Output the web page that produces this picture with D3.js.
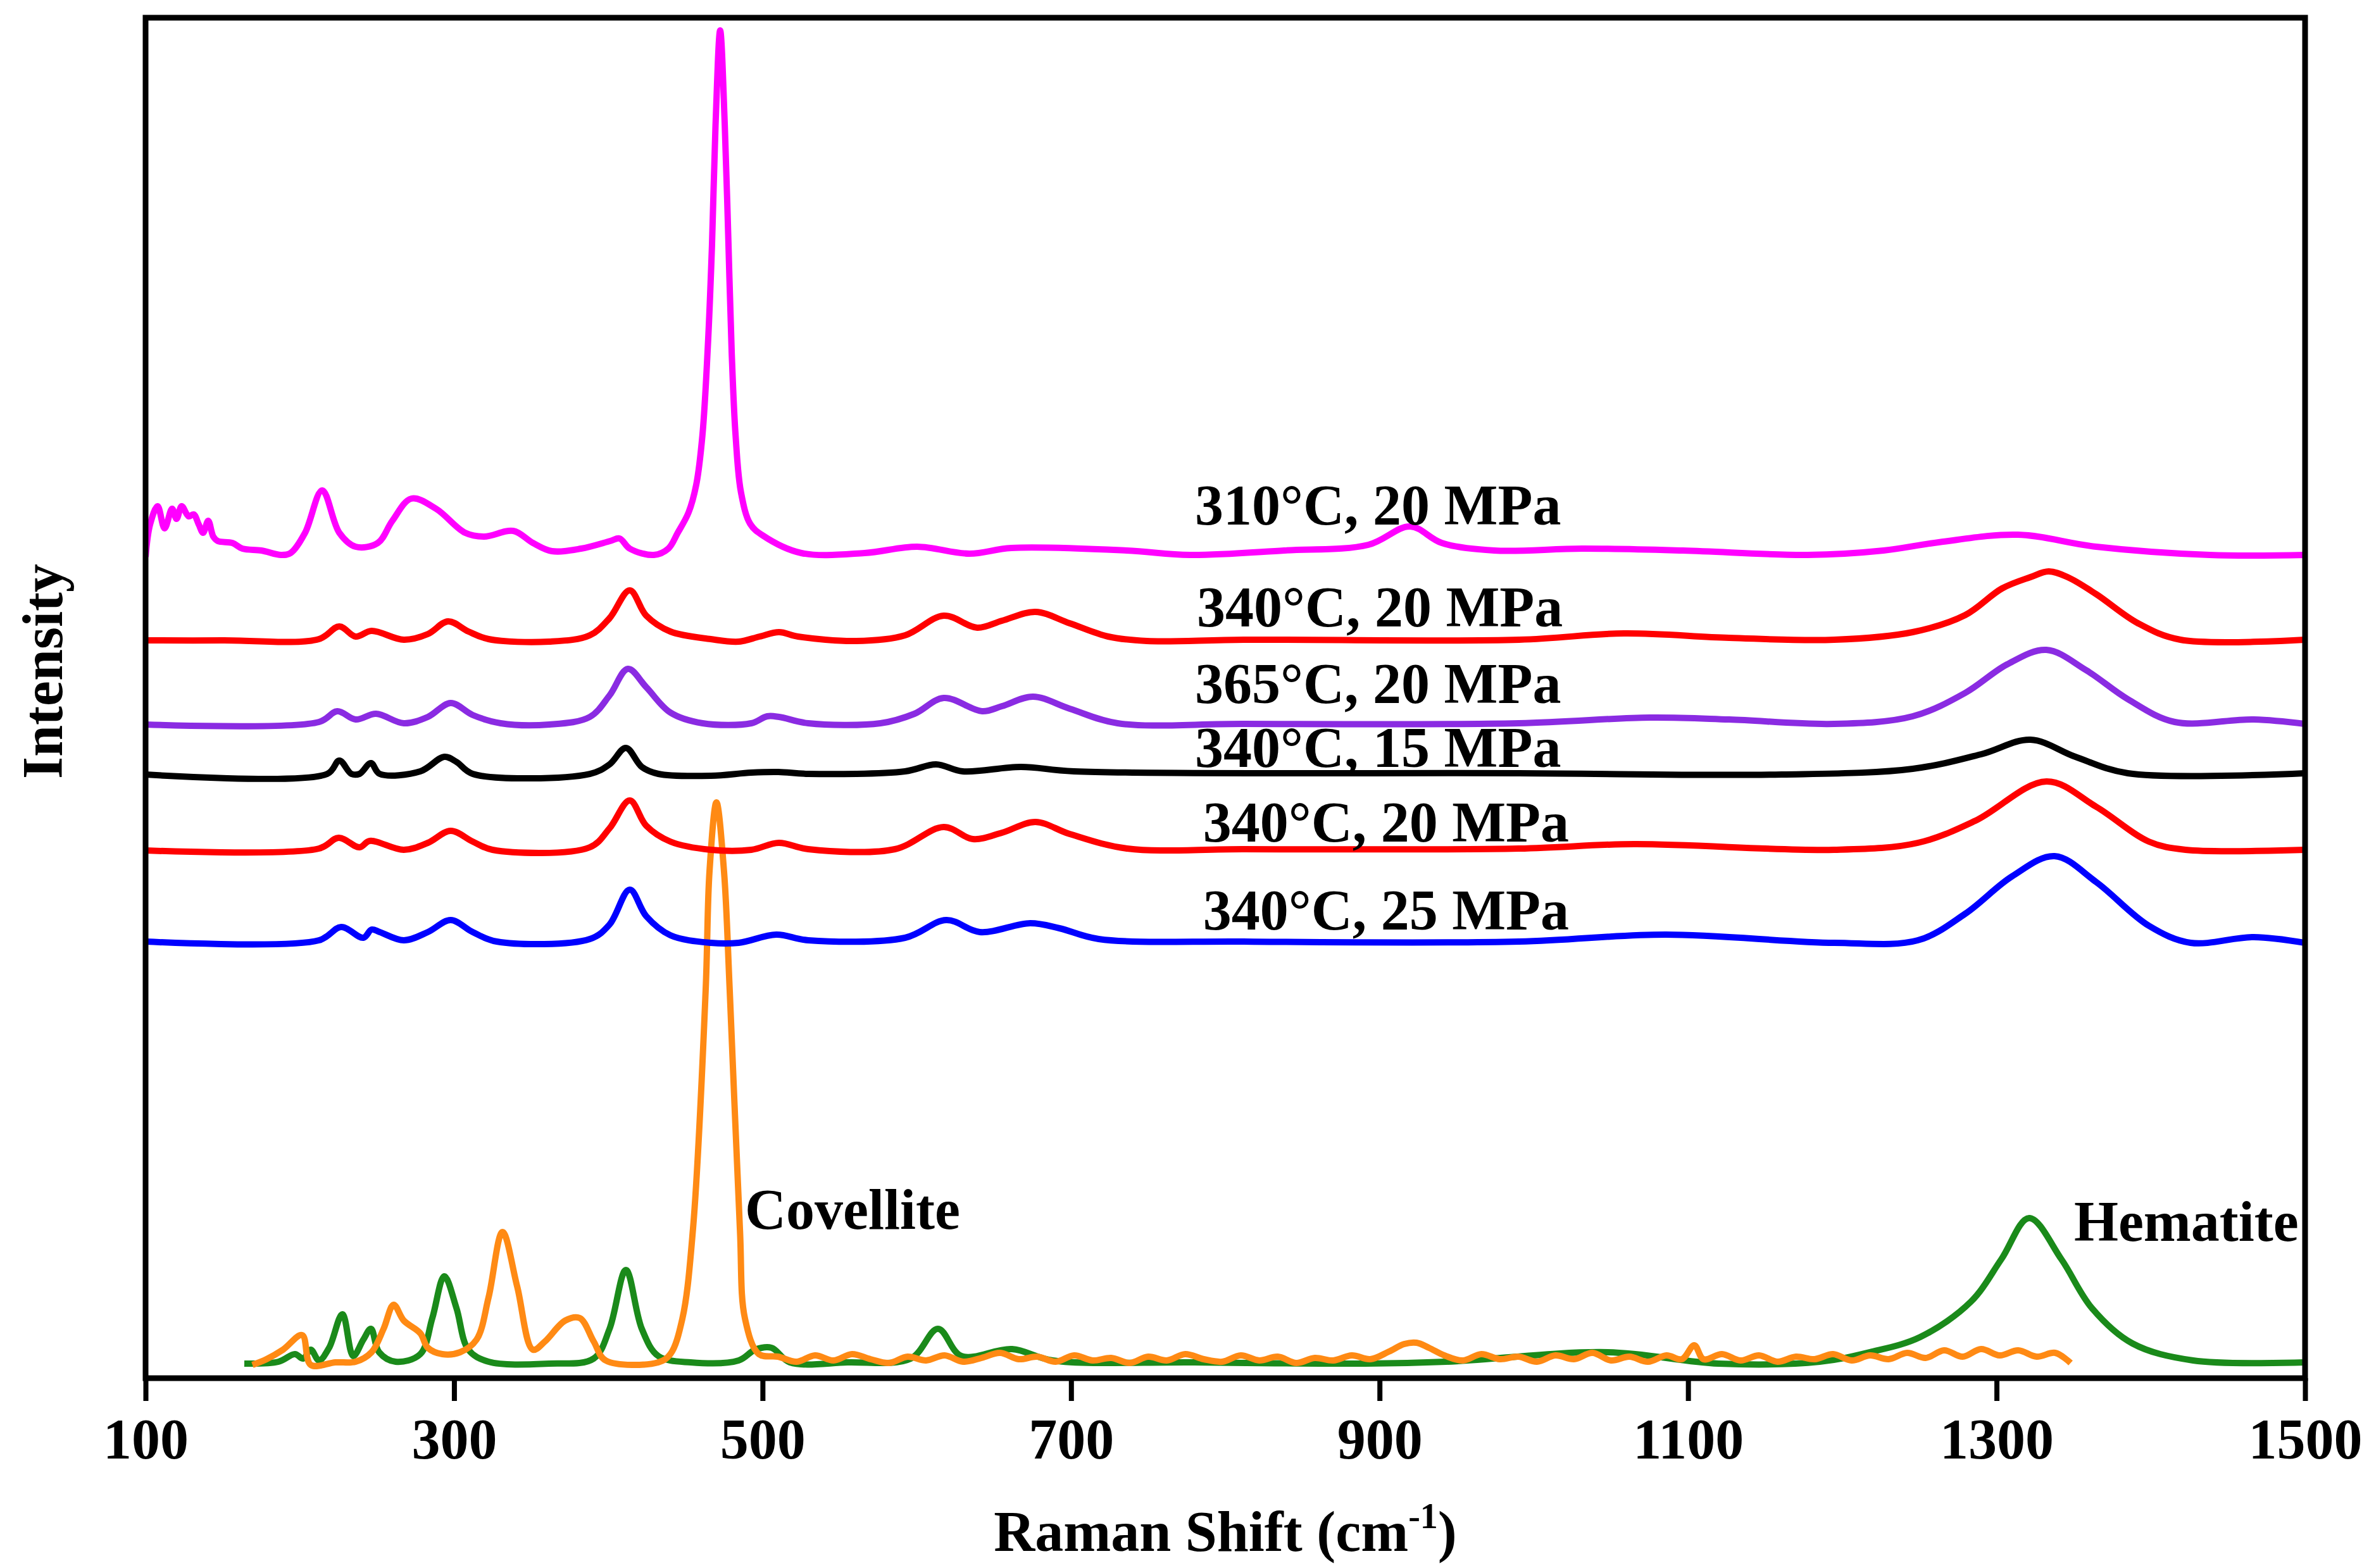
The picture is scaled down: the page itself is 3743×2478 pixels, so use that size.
<!DOCTYPE html>
<html>
<head>
<meta charset="utf-8">
<script src="https://cdn.jsdelivr.net/npm/d3@7/dist/d3.min.js"></script>
<style>
  body { margin: 0; background: #fff; }
  text { font-family: "Liberation Serif", "Times New Roman", serif; font-weight: bold; }
</style>
</head>
<body>
<svg width="3743" height="2478"></svg>
<script>
// Raman shift (cm-1) vs intensity (a.u., stacked with offsets)
var xTicks = [100, 300, 500, 700, 900, 1100, 1300, 1500];

var s310_20 = [[100,649],[102.9,674.5],[107.8,689],[112.3,671.5],[117.2,687],[120.1,679],[123.4,689],[127.9,681],
  [131.2,682.5],[134.5,674.5],[137.3,668],[140.6,677.5],[143.9,665],[146.8,661.5],[156.2,660],[162.8,655.5],
  [175.1,654],[187.8,650.5],[194,652],[203.4,668],[214.5,701.5],[225.6,668],[236.2,657],[250.6,660],[260,677.5],
  [272.3,695],[288.3,687],[307.2,668],[319.5,665],[338.4,669.5],[351.1,660],[363.4,653.5],[382.3,655.5],
  [401.2,661.5],[407.3,663.5],[413.9,655.5],[429.5,650.5],[438.9,655.5],[445,668],[452,684],[457,706],[461,745],
  [464.5,815],[467.2,895],[469.5,990],[472.5,1065],[475.5,990],[477.8,900],[480,810],[482.5,745],[486,700],
  [492,675],[500,666],[525.1,652],[566.1,652],[600.2,657],[634.2,651.5],[661.3,656],[736,654],[777,650.5],[838.2,654],
  [892.7,658.5],[919.8,673],[940.3,660],[974.4,654],[1031.4,655.5],[1096.7,654],[1177.5,650.5],[1226.7,654],
  [1262.5,660.5],[1313.8,666.5],[1364.6,657],[1438.1,650.5],[1500,650.5]];

var s340_20a = [[100,583],[150,583],[212.4,584],[225.6,594],[236.2,586],[246.5,590.5],[267.4,583.5],[283,588],
  [296.1,598],[309.3,590],[322.4,584],[361.8,582],[388,587],[400.8,600.5],[413.9,622.5],[424.6,602.5],[440.2,590],
  [466.4,584],[484.5,582],[498,586],[510.7,589.5],[523,586],[560.8,582.5],[592.4,587],[617.4,602.5],[639.2,593],
  [655.2,598.5],[676.9,605.5],[699.1,596.5],[724.1,586],[749.1,582.5],[811.9,583.5],[990.4,583.5],[1058.5,588.5],
  [1126.6,585],[1194.7,583.5],[1245.6,589.5],[1279.7,603],[1303.5,624],[1322,633],[1333.8,637.5],[1346,633],
  [1364.6,619.5],[1391.7,596.5],[1419.2,583.5],[1500,583.5]];

var s365_20 = [[100,516.5],[212.4,518.5],[224.3,527],[236.2,520.5],[249.4,525],[267.4,517.5],[283,522.5],
  [297.8,533.5],[312.1,524],[330.2,517.5],[361.8,516.5],[388,522.5],[400.8,539.5],[412.7,560.5],[424.6,546],
  [440.2,526],[461.1,517.5],[492.7,517.5],[503,523],[510.7,522.5],[529.6,517.5],[576.4,517.5],[598.5,525],
  [617.4,537.5],[642.4,527],[655.2,531],[675.3,538.5],[699.1,529],[730.2,517.5],[811.9,517],[990.4,517.5],
  [1075.3,522],[1126.6,520.5],[1194.7,517],[1245.6,523],[1279.7,541.5],[1306.8,564],[1332.3,575.5],[1358,559.5],
  [1385.1,536.5],[1415.5,518.5],[1466.7,520.5],[1500,517]];

var s340_15 = [[100,477],[217.8,477.5],[225.6,488],[233.4,477.5],[238.7,477.5],[246.1,486],[251.8,477.5],
  [278.1,479.5],[293.7,491],[301.5,487],[312.1,477.5],[388,477.5],[400.8,485],[411.4,498],[421.7,483],[432.4,477.5],
  [466.4,476],[492.7,478.5],[510.3,479],[529.6,477.5],[592.4,479.5],[612.5,485],[629.7,479.5],[667.5,483],
  [701.9,479.5],[990.4,478],[1160.7,477],[1245.6,481.5],[1290,493],[1322,504.5],[1351.1,491],[1385.1,478],[1500,478]];

var s340_20b = [[100,417],[212.4,418.5],[225.2,427],[238.7,419.5],[245.3,424.5],[267.4,417.5],[283,423],
  [297.8,432.5],[312.1,424],[324.9,417.5],[388,419.5],[400.8,434.5],[413.9,456.5],[424.6,436.5],[440.2,424],
  [466.4,417.5],[492.7,417.5],[510.5,423],[529.6,418],[585.8,418],[617.4,435.5],[636.3,426],[655.2,431],
  [676.9,439.5],[699.1,430],[736.4,418.5],[811.9,418],[990.4,418.5],[1065,422],[1194.7,417.5],[1248.9,423],
  [1286.3,440.5],[1332.3,471.5],[1364.6,451.5],[1398.7,424],[1422.5,417.5],[1500,417.5]];

var s340_25 = [[100,345],[212.4,346],[226.8,356.5],[241.2,348],[246.5,354.5],[251.8,352.5],[267.4,346],
  [283,352.5],[297.8,362],[312.1,352.5],[327.7,345],[388,347],[400.8,358.5],[413.9,386],[424.6,365],[440.2,350],
  [466.4,344],[484.5,344],[508.9,350.5],[529.6,346],[592.4,348],[619.1,362],[640.8,352.5],[673.6,359.5],
  [692.5,355.5],[717.9,347],[811.9,345],[990.4,345],[1085.6,350.5],[1194.7,344],[1248.9,346],[1279.7,367],
  [1310,396.5],[1337.6,412.5],[1364.6,392],[1398.7,357.5],[1425.8,344],[1466.7,348.5],[1500,344]];

var hematite = [[164,11.5],[186.2,13],[196.8,19],[202.2,15.5],[207.1,22.5],[212.4,14],[219,24],[227.6,50.5],
  [234.6,17.5],[241.2,30.5],[246.1,39],[251.4,20.5],[262.1,13],[278.1,19],[285.9,47.5],[293.7,80.5],[301.5,55.5],
  [309.3,22.5],[322.4,13],[361.8,11.5],[390.5,15.5],[400.8,39],[411.4,85.5],[421.7,39],[432.4,17.5],[453.3,12.5],
  [484.5,14],[495.2,22.5],[505.8,24],[517.7,12.5],[555,12.5],[596.1,15.5],[613.7,39],[628.9,17.5],[661.7,23],[688,14],
  [780,12.5],[890.7,11.5],[943.2,13],[1047.8,20.5],[1119.7,11.5],[1185.3,13],[1217.7,20.5],[1250.5,32.5],[1283.4,60.5],
  [1303.1,94],[1321.1,126.5],[1342,94],[1361.7,55.5],[1388,27.5],[1427.4,14],[1500,12.5]];

var covellite = [[169.3,10.5],[178.4,15],[189.1,22.5],[201.5,34],[207.1,10.5],[223.1,12.5],[236.2,13],
  [246.5,20.5],[254.3,39],[260.8,58],[267.4,45.5],[278.1,35.5],[283,24],[292.4,19],[303.9,20.5],[314.6,30.5],
  [322.4,64],[331.4,115.5],[340.9,72.5],[351.1,22.5],[358.9,29],[372,45.5],[381.5,47.5],[390.5,29],[398.3,14],
  [432.4,12.5],[440.2,19],[448,47],[454.9,118],[463.1,306.5],[465.6,400.5],[470.1,455],[475,400.5],[478.7,306.5],
  [485.3,118],[488.6,47],[497.6,19],[510,17],[522,13],[534,18],[546,14],[558,19],[570,15],[582,12],[594,17],
  [606,14],[618,18],[630,13],[642,16],[654,20],[666,15],[678,17],[690,13],[702,18],[714,14],[726,16],[738,12],
  [750,17],[762,14],[774,19],[786,15],[798,13],[810,18],[822,14],[834,17],[846,12],[858,16],[870,14],[882,18],
  [894,15],[906,21],[916,27],[924,28],[932,24],[942,18],[954,14],[966,19],[978,15],[990,17],[1002,13],[1014,18],
  [1026,15],[1038,20],[1050,14],[1062,17],[1074,13],[1086,18],[1096,15],[1104,26],[1110,15],[1122,19],[1134,14],
  [1146,18],[1158,13],[1170,17],[1182,15],[1194,19],[1206,14],[1218,18],[1230,15],[1242,20],[1254,16],[1266,22],
  [1278,17],[1290,23],[1302,18],[1314,22],[1326,17],[1338,20],[1348,12]];

var seriesData = [hematite, covellite, s340_25, s340_20b, s340_15, s365_20, s340_20a, s310_20];
var seriesColors = ["#1a8a1a", "#ff8a14", "#0000ff", "#ff0000", "#000000", "#8a2be2", "#ff0000", "#ff00ff"];

var labelText = ["310\u00b0C, 20 MPa", "340\u00b0C, 20 MPa", "365\u00b0C, 20 MPa", "340\u00b0C, 15 MPa",
  "340\u00b0C, 20 MPa", "340\u00b0C, 25 MPa", "Covellite", "Hematite"];
var labelShift = [780.3, 781.5, 780.3, 780.3, 785.5, 785.5, 488.6, 1350.2];
var labelLevel = [674.5, 594, 533.5, 483, 424, 354.5, 118, 108.5];

var svg = d3.select("svg"),
  margin = {top: 28, right: 101, bottom: 300, left: 230},
  width = +svg.attr("width") - margin.left - margin.right,
  height = +svg.attr("height") - margin.top - margin.bottom,
  g = svg.append("g").attr("transform", "translate(" + margin.left + "," + margin.top + ")");

svg.insert("rect", ":first-child").attr("width", 3743).attr("height", 2478).attr("fill", "#fff");

var x = d3.scaleLinear().domain([100, 1500]).range([0, width]);
var y = d3.scaleLinear().domain([0, 1075]).range([height, 0]);

var line = d3.line()
  .x(function(d) { return x(d[0]); })
  .y(function(d) { return y(d[1]); })
  .curve(d3.curveCatmullRom.alpha(0.5));

g.append("clipPath").attr("id", "clip")
  .append("rect").attr("width", width).attr("height", height);

g.append("g")
  .attr("clip-path", "url(#clip)")
  .selectAll("path")
  .data(seriesData)
  .enter().append("path")
    .attr("d", line)
    .attr("fill", "none")
    .attr("stroke", function(d, i) { return seriesColors[i]; })
    .attr("stroke-width", 10)
    .attr("stroke-linejoin", "round");

// frame
g.append("rect")
  .attr("width", width)
  .attr("height", height)
  .attr("fill", "none")
  .attr("stroke", "#000")
  .attr("stroke-width", 9);

var xAxis = g.append("g")
  .attr("transform", "translate(0," + height + ")")
  .call(d3.axisBottom(x).tickValues(xTicks).tickSize(36).tickPadding(27).tickFormat(d3.format("d")));
xAxis.select(".domain").remove();
xAxis.selectAll(".tick line").attr("stroke", "#000").attr("stroke-width", 8);
xAxis.selectAll(".tick text")
  .attr("fill", "#000")
  .style("font-family", "'Liberation Serif', serif")
  .style("font-weight", "bold")
  .style("font-size", "90px");

g.selectAll(".series-label")
  .data(labelText)
  .enter().append("text")
    .attr("class", "series-label")
    .attr("x", function(d, i) { return x(labelShift[i]); })
    .attr("y", function(d, i) { return y(labelLevel[i]); })
    .attr("font-size", 90)
    .attr("fill", "#000")
    .text(function(d) { return d; });

var xt = svg.append("text")
  .attr("x", margin.left + width / 2)
  .attr("y", 2451)
  .attr("text-anchor", "middle")
  .attr("font-size", 90)
  .attr("fill", "#000");
xt.append("tspan").text("Raman Shift (cm");
xt.append("tspan").attr("dy", -36).attr("font-size", 56).text("-1");
xt.append("tspan").attr("dy", 36).text(")");

svg.append("text")
  .attr("transform", "translate(98," + 1061 + ") rotate(-90)")
  .attr("text-anchor", "middle")
  .attr("font-size", 90)
  .attr("fill", "#000")
  .text("Intensity");
</script>
</body>
</html>
